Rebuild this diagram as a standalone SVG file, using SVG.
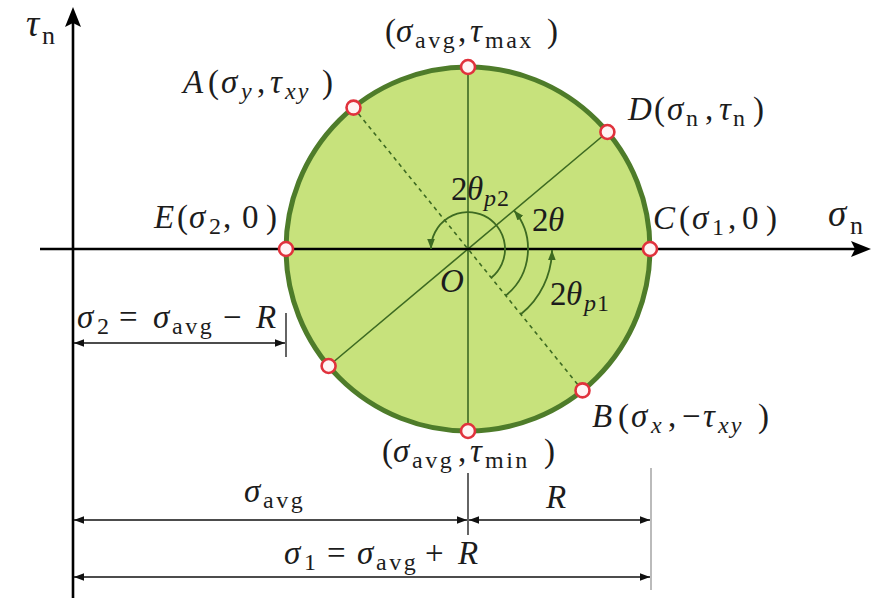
<svg xmlns="http://www.w3.org/2000/svg" width="874" height="598" viewBox="0 0 874 598">
<defs>
<style>
text{font-family:"Liberation Serif","DejaVu Serif",serif;font-size:33px;fill:#1c1c1c}
tspan{font-family:"Liberation Serif","DejaVu Serif",serif}
.i{font-style:italic}
.s{font-size:24px}
.w{letter-spacing:2.5px}
.ax{font-size:37px}
.axs{font-size:26px}
.ln{stroke:#3d6a22;stroke-width:1.6;fill:none}
.dim{stroke:#111;stroke-width:1.4;fill:none;marker-start:url(#da);marker-end:url(#da)}
.ext{stroke:#111;stroke-width:1.3}
.arc{stroke:#3d6a22;stroke-width:1.8;fill:none;marker-end:url(#ga)}
.pt{fill:#fff4f4;stroke:#e0323c;stroke-width:2.6}
</style>
<marker id="da" viewBox="-10 -5 11 10" refX="0" refY="0" markerWidth="11" markerHeight="10" markerUnits="userSpaceOnUse" orient="auto-start-reverse">
<path d="M0,0 L-10,-3.8 L-10,3.8 Z" fill="#111"/>
</marker>
<marker id="ga" viewBox="-10 -5 11 10" refX="0" refY="0" markerWidth="11" markerHeight="10" markerUnits="userSpaceOnUse" orient="auto">
<path d="M0,0 L-10,-3.8 L-10,3.8 Z" fill="#3d6a22"/>
</marker>
</defs>
<rect width="874" height="598" fill="#fff"/>

<g id="mohr-circle">
<circle cx="468" cy="249" r="182" fill="#c7e27c" stroke="#4e7c2a" stroke-width="5"/>
<line class="ln" x1="468" y1="67" x2="468" y2="431"/>
<line class="ln" x1="607.4" y1="132" x2="328.6" y2="366"/>
<line class="ln" x1="353.5" y1="107.6" x2="582.5" y2="390.4" stroke-dasharray="4 4" stroke-width="2.2"/>
</g>

<g id="axes">
<line x1="73" y1="598" x2="73" y2="22" stroke="#000" stroke-width="2.6"/>
<path d="M73,7 L81,27 L73,23 L65,27 Z" fill="#000"/>
<line x1="40" y1="249" x2="856" y2="249" stroke="#000" stroke-width="2.6"/>
<path d="M871,249 L851,241 L855,249 L851,257 Z" fill="#000"/>
</g>

<g id="connectors">
<path class="arc" d="M491.3,277.8 A37,37 0 1 0 431,249"/>
<path class="arc" d="M505.7,295.6 A60,60 0 0 0 514,210.4"/>
<path class="arc" d="M520.8,314.3 A84,84 0 0 0 552,250"/>
<line class="ext" x1="286" y1="313" x2="286" y2="357"/>
<line class="dim" x1="74" y1="343" x2="285" y2="343"/>
<line class="ext" x1="468" y1="473" x2="468" y2="535"/>
<line x1="651" y1="468" x2="651" y2="590" stroke="#aaa" stroke-width="1.6"/>
<line class="dim" x1="74" y1="520" x2="467" y2="520"/>
<line class="dim" x1="469" y1="520" x2="650" y2="520"/>
<line class="dim" x1="74" y1="577" x2="650" y2="577"/>
</g>

<g id="points">
<circle class="pt" cx="468" cy="67" r="7"/>
<circle class="pt" cx="468" cy="431" r="7"/>
<circle class="pt" cx="286" cy="249" r="7"/>
<circle class="pt" cx="650" cy="249" r="7"/>
<circle class="pt" cx="353.5" cy="107.6" r="7"/>
<circle class="pt" cx="582.5" cy="390.4" r="7"/>
<circle class="pt" cx="607.4" cy="132" r="7"/>
<circle class="pt" cx="328.6" cy="366" r="7"/>
</g>

<g id="labels">
<g id="lbl-tau-axis"><text x="26" y="36" class="i ax">τ</text><text x="42" y="44" class="axs">n</text></g>
<g id="lbl-sigma-axis"><text x="828" y="226" class="i ax">σ</text><text x="850" y="234" class="axs">n</text></g>

<g id="lbl-top"><text y="42"><tspan x="385">(</tspan><tspan x="396" class="i">σ</tspan><tspan x="415" y="48" class="s w">avg</tspan><tspan x="458" y="42">,</tspan><tspan x="470" class="i">τ</tspan><tspan x="485" y="48" class="s w">max</tspan><tspan x="547" y="42">)</tspan></text></g>

<g id="lbl-A"><text y="93"><tspan x="183" class="i">A</tspan><tspan x="208">(</tspan><tspan x="221" class="i">σ</tspan><tspan x="241" y="99" class="s i">y</tspan><tspan x="257" y="93">,</tspan><tspan x="270" class="i">τ</tspan><tspan x="285" y="99" class="s i" letter-spacing="2">xy</tspan><tspan x="322" y="93">)</tspan></text></g>

<g id="lbl-D"><text y="120"><tspan x="628" class="i">D</tspan><tspan x="654">(</tspan><tspan x="667" class="i">σ</tspan><tspan x="686" y="126" class="s">n</tspan><tspan x="705" y="120">,</tspan><tspan x="719" class="i">τ</tspan><tspan x="733" y="126" class="s">n</tspan><tspan x="753" y="120">)</tspan></text></g>

<g id="lbl-C"><text y="229"><tspan x="653" class="i">C</tspan><tspan x="679">(</tspan><tspan x="692" class="i">σ</tspan><tspan x="712" y="235" class="s">1</tspan><tspan x="728" y="229">,</tspan><tspan x="742">0</tspan><tspan x="766">)</tspan></text></g>

<g id="lbl-E"><text y="228"><tspan x="154" class="i">E</tspan><tspan x="177">(</tspan><tspan x="189" class="i">σ</tspan><tspan x="209" y="234" class="s">2</tspan><tspan x="223" y="228">,</tspan><tspan x="242">0</tspan><tspan x="266">)</tspan></text></g>

<g id="lbl-2thp2"><text y="200"><tspan x="451">2</tspan><tspan x="467" class="i">θ</tspan><tspan x="484" y="206" class="s i">p</tspan><tspan x="497" class="s">2</tspan></text></g>
<g id="lbl-2th"><text y="231"><tspan x="532">2</tspan><tspan x="548" class="i">θ</tspan></text></g>
<g id="lbl-O"><text x="440" y="292" class="i">O</text></g>
<g id="lbl-2thp1"><text y="305"><tspan x="550">2</tspan><tspan x="566" class="i">θ</tspan><tspan x="584" y="311" class="s i">p</tspan><tspan x="597" class="s">1</tspan></text></g>

<g id="lbl-B"><text y="427"><tspan x="592" class="i">B</tspan><tspan x="618">(</tspan><tspan x="631" class="i">σ</tspan><tspan x="651" y="433" class="s i">x</tspan><tspan x="668" y="427">,</tspan><tspan x="682">−</tspan><tspan x="703" class="i">τ</tspan><tspan x="718" y="433" class="s i" letter-spacing="2">xy</tspan><tspan x="758" y="427">)</tspan></text></g>

<g id="lbl-bottom"><text y="462"><tspan x="382">(</tspan><tspan x="393" class="i">σ</tspan><tspan x="412" y="468" class="s w">avg</tspan><tspan x="458" y="462">,</tspan><tspan x="470" class="i">τ</tspan><tspan x="485" y="468" class="s w">min</tspan><tspan x="544" y="462">)</tspan></text></g>

<g id="lbl-sigma2"><text y="328"><tspan x="77" class="i">σ</tspan><tspan x="97" y="334" class="s">2</tspan><tspan x="119" y="328">=</tspan><tspan x="153" class="i">σ</tspan><tspan x="172" y="334" class="s w">avg</tspan><tspan x="223" y="328">−</tspan><tspan x="256" class="i">R</tspan></text></g>

<g id="lbl-savg"><text y="502"><tspan x="244" class="i">σ</tspan><tspan x="263" y="508" class="s w">avg</tspan></text></g>
<g id="lbl-R"><text x="546" y="508" class="i">R</text></g>

<g id="lbl-sigma1"><text y="564"><tspan x="284" class="i">σ</tspan><tspan x="304" y="570" class="s">1</tspan><tspan x="327" y="564">=</tspan><tspan x="357" class="i">σ</tspan><tspan x="376" y="570" class="s w">avg</tspan><tspan x="425" y="564">+</tspan><tspan x="458" class="i">R</tspan></text></g>
</g>
</svg>
